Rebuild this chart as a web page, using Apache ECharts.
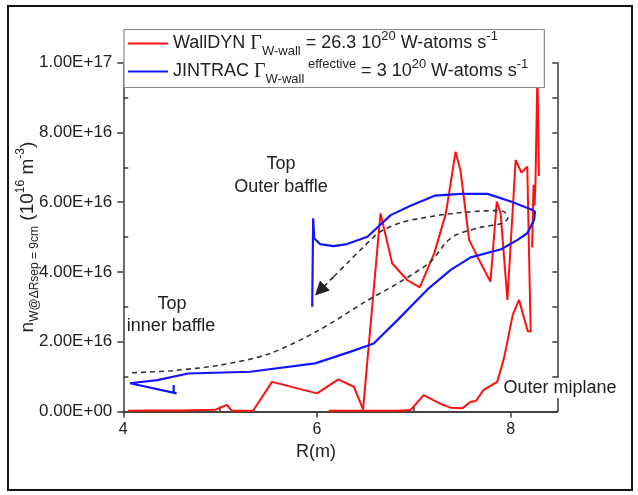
<!DOCTYPE html>
<html><head><meta charset="utf-8">
<script src="https://cdn.jsdelivr.net/npm/echarts@6/dist/echarts.min.js"></script>
<style>html,body{margin:0;padding:0;background:#fff}#c{width:638px;height:495px}</style>
</head><body><div id="c"></div>
<script>
// ---- data (R in m, density in units of 1e16 m^-3) ----
const xTicks = [4, 6, 8];
const xMinorTicks = [5, 7];
const yTicks = [0, 2, 4, 6, 8, 10];
const yMinorTicks = [1, 3, 5, 7, 9];
const yAllTicks = [0,1,2,3,4,5,6,7,8,9,10];

const wallR = [4.05,4.3,4.6,4.95,5.07,5.12,5.34,5.535,6.0,6.22,6.38,6.475,6.655,6.775,6.93,7.06,7.21,7.33,7.43,7.48,7.57,7.655,7.79,7.855,7.895,7.965,8.05,8.11,8.17,8.205,8.175,8.085,8.02,7.93,7.86,7.72,7.64,7.585,7.5,7.38,7.275,7.1,6.965,6.83,6.12,null,8.22,8.235,8.245,8.255,8.275,8.29];
const wallN = [0.02,0.03,0.03,0.05,0.19,0.02,0.02,0.85,0.52,0.92,0.71,0.06,5.68,4.25,3.77,3.56,4.54,5.68,7.45,6.92,4.92,4.44,3.72,6.02,5.68,3.2,7.21,6.85,7.02,2.29,2.3,3.2,2.77,1.53,0.85,0.62,0.3,0.28,0.09,0.11,0.22,0.47,0.04,0.02,0.02,null,4.7,6.5,5.9,6.6,9.74,6.75];

const jinR = [4.52,4.52,4.55,4.07,4.35,4.67,5.31,5.98,6.34,6.585,6.83,7.14,7.38,7.585,7.9,8.07,8.17,8.24,8.25,8.206,8.0,7.76,7.48,7.22,6.965,6.76,6.52,6.31,6.17,6.03,5.97,5.96,5.95];
const jinN = [0.76,0.54,0.52,0.81,0.9,1.09,1.14,1.38,1.71,1.95,2.62,3.5,4.06,4.42,4.65,4.92,5.11,5.49,5.73,5.8,6.02,6.24,6.24,6.19,5.9,5.63,5.01,4.8,4.74,4.8,4.97,5.54,3.0];

const pathR = [4.09,4.5,5.0,5.5,6.0,6.5,6.86,7.17,7.34,7.45,7.69,7.91,7.97,7.93,7.83,7.41,7.07,6.86,6.65,6.48,6.31,6.17];
const pathN = [1.11,1.17,1.33,1.65,2.3,3.15,3.72,4.29,4.87,5.08,5.28,5.4,5.55,5.73,5.76,5.68,5.54,5.41,5.15,4.72,4.25,3.86];
const arrowR = [6.17, 6.03];
const arrowN = [3.86, 3.47];

const xMin = 4, xMax = 8.48, yMin = 0, yMax = 10;

function zip(a, b) { return a.map((v, i) => v === null ? ['-', '-'] : [v, b[i]]); }
function sci(v) {
  const x = v * 1e16;
  if (x === 0) return '0.00E+00';
  const e = Math.floor(Math.log10(x) + 1e-9);
  const m = x / Math.pow(10, e);
  return m.toFixed(2) + 'E+' + String(e).padStart(2, '0');
}

const TXT = '#222';
const AX = '#3a3a3a';
const FF = 'Liberation Sans, Arial, sans-serif';
const RED = '#ff1010', BLUE = '#1414ff';

const richLegend = {
  m: {fontSize: 18, lineHeight: 28, color: TXT, fontFamily: FF},
  g: {fontSize: 20, lineHeight: 28, color: TXT, fontFamily: 'Liberation Serif, serif'},
  sub: {fontSize: 13, lineHeight: 18, verticalAlign: 'bottom', color: TXT, fontFamily: FF},
  sup: {fontSize: 13, lineHeight: 13, verticalAlign: 'top', color: TXT, fontFamily: FF}
};

const chart = echarts.init(document.getElementById('c'), null, {renderer: 'canvas'});
const grid = {left: 123.3, right: 80.7, top: 62.7, bottom: 83.5};

chart.setOption({
  backgroundColor: '#fff',
  animation: false,
  grid: grid,
  legend: {
    left: 124, top: 29.5, orient: 'vertical',
    padding: [0, 16, 2, 4], itemGap: 0, itemWidth: 40, itemHeight: 2.2,
    icon: 'rect',
    borderColor: '#8a8a8a', borderWidth: 1.2, backgroundColor: '#fff',
    data: ['WallDYN', 'JINTRAC'],
    formatter: function (name) {
      if (name === 'WallDYN') return '{m|WallDYN }{g|Γ}{sub|W-wall}{m| = 26.3 10}{sup|20}{m| W-atoms s}{sup|-1}';
      return '{m|JINTRAC }{g|Γ}{sub|W-wall}{sup| effective}{m| = 3 10}{sup|20}{m| W-atoms s}{sup|-1}';
    },
    textStyle: {rich: richLegend}
  },
  xAxis: [
    {type: 'value', min: xMin, max: xMax, position: 'bottom',
     axisLine: {show: true, lineStyle: {color: AX, width: 1.5}},
     axisTick: {show: true, inside: false, length: 6, customValues: xTicks, lineStyle: {color: AX, width: 1.5}},
     axisLabel: {customValues: xTicks, margin: 10, fontSize: 16, color: TXT, fontFamily: FF},
     splitLine: {show: false}},
    {type: 'value', min: xMin, max: xMax, position: 'bottom',
     axisLine: {show: false},
     axisTick: {show: true, inside: true, length: 5, customValues: xMinorTicks, lineStyle: {color: AX, width: 1.5}},
     axisLabel: {show: false}, splitLine: {show: false}},
    {type: 'value', min: xMin, max: xMax, position: 'top',
     axisLine: {show: true, lineStyle: {color: AX, width: 1.5}},
     axisTick: {show: false}, axisLabel: {show: false}, splitLine: {show: false}}
  ],
  yAxis: [
    {type: 'value', min: yMin, max: yMax, position: 'left',
     axisLine: {show: true, lineStyle: {color: AX, width: 1.5}},
     axisTick: {show: true, inside: false, length: 6, customValues: yTicks, lineStyle: {color: AX, width: 1.5}},
     axisLabel: {customValues: yTicks, margin: 11, fontSize: 17, color: TXT, fontFamily: FF, formatter: sci},
     splitLine: {show: false},
     name: '{m|n}{sub|W@ΔRsep = 9cm}{m| (10}{sup|16}{m| m}{sup|-3}{m|)}',
     nameLocation: 'middle', nameRotate: 90, nameGap: 83, nameMoveOverlap: false,
     nameTextStyle: {rich: {
       m: {fontSize: 19, lineHeight: 26, color: TXT, fontFamily: FF},
       sub: {fontSize: 12, lineHeight: 16, verticalAlign: 'bottom', color: TXT, fontFamily: FF},
       sup: {fontSize: 12, lineHeight: 12, verticalAlign: 'top', color: TXT, fontFamily: FF}
     }}},
    {type: 'value', min: yMin, max: yMax, position: 'left',
     axisLine: {show: false},
     axisTick: {show: true, inside: true, length: 5, customValues: yMinorTicks, lineStyle: {color: AX, width: 1.5}},
     axisLabel: {show: false}, splitLine: {show: false}},
    {type: 'value', min: yMin, max: yMax, position: 'right',
     axisLine: {show: true, lineStyle: {color: AX, width: 1.5}},
     axisTick: {show: true, inside: true, length: 5, customValues: yAllTicks, lineStyle: {color: AX, width: 1.5}},
     axisLabel: {show: false}, splitLine: {show: false}}
  ],
  series: [
    {name: 'WallDYN', type: 'line', xAxisIndex: 0, yAxisIndex: 0, data: zip(wallR, wallN),
     showSymbol: false, symbol: 'none', connectNulls: false, z: 3,
     lineStyle: {color: RED, width: 2}, itemStyle: {color: RED}},
    {name: 'JINTRAC', type: 'line', xAxisIndex: 0, yAxisIndex: 0, data: zip(jinR, jinN),
     showSymbol: false, symbol: 'none', z: 4,
     lineStyle: {color: BLUE, width: 2.2}, itemStyle: {color: BLUE}},
    {name: 'path', type: 'line', xAxisIndex: 0, yAxisIndex: 0, data: zip(pathR, pathN),
     showSymbol: false, symbol: 'none', smooth: 0.3, z: 5,
     lineStyle: {color: '#333', width: 1.6, type: [5, 4]}},
    {name: 'arrow', type: 'lines', coordinateSystem: 'cartesian2d', xAxisIndex: 0, yAxisIndex: 0,
     symbol: ['none', 'triangle'], symbolSize: [12, 14], z: 5,
     lineStyle: {color: '#222', width: 1.6, type: [5, 4], opacity: 1},
     data: [{coords: [[arrowR[0], arrowN[0]], [arrowR[1], arrowN[1]]]}]}
  ],
  graphic: [
    {type: 'rect', shape: {x: 8, y: 6, width: 624, height: 484}, style: {fill: 'none', stroke: '#111', lineWidth: 2}, z: 0, silent: true},
    {type: 'text', x: 281, y: 164, style: {text: 'Top', font: '18px ' + FF, fill: TXT, align: 'center', verticalAlign: 'middle'}},
    {type: 'text', x: 281, y: 187, style: {text: 'Outer baffle', font: '18px ' + FF, fill: TXT, align: 'center', verticalAlign: 'middle'}},
    {type: 'text', x: 172, y: 304, style: {text: 'Top', font: '18px ' + FF, fill: TXT, align: 'center', verticalAlign: 'middle'}},
    {type: 'text', x: 171, y: 326, style: {text: 'inner baffle', font: '18px ' + FF, fill: TXT, align: 'center', verticalAlign: 'middle'}},
    {type: 'text', x: 560, y: 388, z: 100, style: {text: 'Outer miplane', font: '18px ' + FF, fill: TXT, align: 'center', verticalAlign: 'middle', backgroundColor: '#fff', padding: [1, 1]}},
    {type: 'text', x: 316, y: 452, style: {text: 'R(m)', font: '18px ' + FF, fill: TXT, align: 'center', verticalAlign: 'middle'}}
  ]
});
</script>
</body></html>
